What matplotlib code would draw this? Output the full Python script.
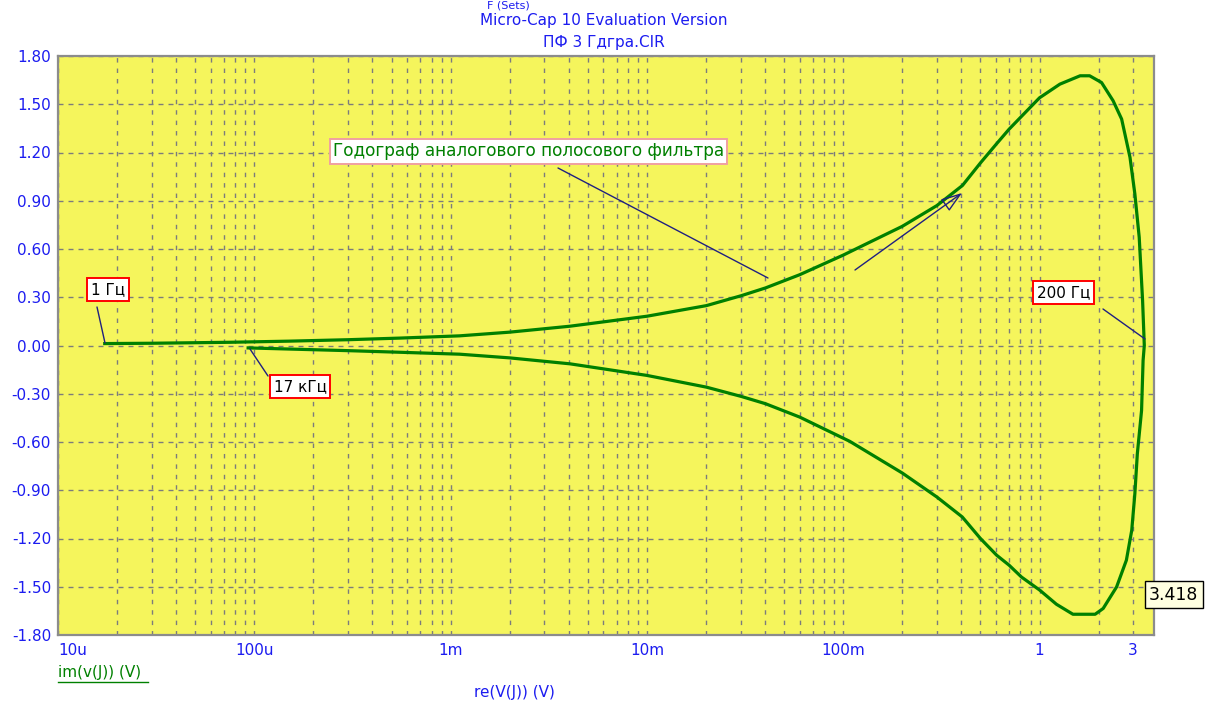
import matplotlib.pyplot as plt
from matplotlib.ticker import LogLocator, NullFormatter

plt.rcParams['font.family'] = ['DejaVu Sans']
plt.rcParams['lines.scale_dashes'] = False

# годограф: верхняя ветвь (1 Гц -> 200 Гц)
re_up = [1.73e-5, 3.0e-5, 7.5e-5, 1.5e-4, 3.0e-4, 5.5e-4, 1.11e-3, 2.0e-3, 4.06e-3,
         0.01, 0.0201, 0.0303, 0.0402, 0.06, 0.1, 0.2, 0.3, 0.405, 0.5, 0.605, 0.7,
         0.81, 1.0, 1.27, 1.61, 1.80, 2.07, 2.37, 2.62, 2.89, 3.06, 3.22, 3.35, 3.418]
im_up = [0.012, 0.014, 0.02, 0.027, 0.036, 0.046, 0.06, 0.083, 0.12,
         0.182, 0.248, 0.31, 0.358, 0.44, 0.562, 0.741, 0.87, 0.995, 1.135, 1.255, 1.345,
         1.425, 1.54, 1.625, 1.677, 1.677, 1.635, 1.522, 1.408, 1.17, 0.942, 0.673, 0.28, 0.0]

# нижняя ветвь (200 Гц -> 17 кГц)
re_dn = [3.418, 3.37, 3.31, 3.15, 3.06, 2.95, 2.77, 2.47, 2.11, 1.92, 1.48, 1.22, 1.0,
         0.81, 0.7, 0.605, 0.5, 0.404, 0.3, 0.2, 0.108, 0.06, 0.0402, 0.0303, 0.0201,
         0.01, 4.06e-3, 2.0e-3, 1.11e-3, 5.5e-4, 3.0e-4, 1.5e-4, 9.3e-5]
im_dn = [0.0, -0.093, -0.404, -0.673, -0.921, -1.149, -1.335, -1.501, -1.635, -1.671,
         -1.671, -1.609, -1.52, -1.44, -1.366, -1.304, -1.20, -1.066, -0.942, -0.793,
         -0.596, -0.445, -0.362, -0.317, -0.259, -0.186, -0.114, -0.077, -0.054, -0.042,
         -0.032, -0.022, -0.015]

x_ticks = [1e-5, 1e-4, 1e-3, 1e-2, 1e-1, 1, 3]
x_labels = ['10u', '100u', '1m', '10m', '100m', '1', '3']
y_ticks = [-1.8, -1.5, -1.2, -0.9, -0.6, -0.3, 0.0, 0.3, 0.6, 0.9, 1.2, 1.5, 1.8]

blue = '#1c1cf0'
navy = '#202080'
green = '#008000'
grid_gray = '#7c7c7c'

W, H = 1210, 707
def fx(px):
    return px / W
def fy(py):
    return 1 - py / H

fig = plt.figure(figsize=(12.1, 7.07), dpi=100)
ax = fig.add_axes([fx(58), fy(635), fx(1154) - fx(58), fy(56) - fy(635)])
ax.set_facecolor('#f5f55c')

ax.plot(re_up + re_dn[1:], im_up + im_dn[1:], color=green, lw=2.3, zorder=3,
        solid_joinstyle='round')

ax.set_xscale('log')
ax.set_xlim(1e-5, 3.83)
ax.set_ylim(-1.8, 1.8)
ax.set_xticks(x_ticks, x_labels)
ax.set_yticks(y_ticks, ['%.2f' % v for v in y_ticks])
ax.xaxis.set_minor_locator(LogLocator(base=10, subs=range(2, 10), numticks=20))
ax.xaxis.set_minor_formatter(NullFormatter())
ax.tick_params(axis='both', which='both', length=0, labelcolor=blue, labelsize=11)
ax.tick_params(axis='x', pad=6)
ax.tick_params(axis='y', pad=5)
ax.get_xticklabels()[0].set_ha('left')

ax.grid(True, which='both', axis='x', color=grid_gray, lw=1, linestyle=(0, (3.2, 4.3)))
ax.grid(True, which='major', axis='y', color=grid_gray, lw=1, linestyle=(0, (3.6, 3.6)))
for s in ax.spines.values():
    s.set_color('#8c8c8c')
    s.set_linewidth(1.6)

# заголовок (верхняя строка в оригинале срезана краем)
fig.text(fx(508), fy(0), 'F (Sets)', color=blue, fontsize=8, ha='center', va='top')
fig.text(fx(604), fy(20), 'Micro-Cap 10 Evaluation Version', color=blue, fontsize=11,
         ha='center', va='center')
fig.text(fx(604), fy(42), 'ПФ 3 Гдгра.CIR', color=blue, fontsize=11, ha='center', va='center')

# подписи осей
fig.text(fx(58), fy(673), 'im(v(J)) (V)', color=green, fontsize=11, ha='left', va='center')
fig.add_artist(plt.Line2D([fx(58), fx(148)], [fy(682), fy(682)], color=green, lw=1))
fig.text(fx(514), fy(693), 're(V(J)) (V)', color=blue, fontsize=11, ha='center', va='center')

# метки
red_box = dict(boxstyle='square,pad=0.25', fc='white', ec='red', lw=1.4)
ax.text(fx(108), fy(289.5), '1 Гц', transform=fig.transFigure, fontsize=11,
        ha='center', va='center', bbox=red_box, zorder=5)
ax.text(fx(300), fy(386.5), '17 кГц', transform=fig.transFigure, fontsize=11,
        ha='center', va='center', bbox=red_box, zorder=5)
ax.text(fx(1063.5), fy(292.5), '200 Гц', transform=fig.transFigure, fontsize=11,
        ha='center', va='center', bbox=red_box, zorder=5)
ax.text(fx(528.5), fy(151.5), 'Годограф аналогового полосового фильтра',
        transform=fig.transFigure, fontsize=12.2, color=green, ha='center', va='center',
        bbox=dict(boxstyle='square,pad=0.18', fc='white', ec='#f0a0a0', lw=1.4), zorder=5)

leaders = [((97, 307), (105, 343)), ((268, 376), (250, 349)),
           ((1103, 309), (1145, 339)), ((558, 168), (768, 278))]
for (a, b) in leaders:
    ax.annotate('', xy=(fx(b[0]), fy(b[1])), xycoords='figure fraction',
                xytext=(fx(a[0]), fy(a[1])), textcoords='figure fraction',
                arrowprops=dict(arrowstyle='-', color=navy, lw=1, shrinkA=0, shrinkB=0),
                zorder=4)

ax.annotate('', xy=(fx(962), fy(193)), xycoords='figure fraction',
            xytext=(fx(855), fy(270)), textcoords='figure fraction',
            arrowprops=dict(arrowstyle='-|>,head_length=1.3,head_width=0.45', ec=navy,
                            fc='none', lw=1, shrinkA=0, shrinkB=0), zorder=4)

fig.text(fx(1149), fy(594.5), '3.418', fontsize=12.5, ha='left', va='center',
         bbox=dict(boxstyle='square,pad=0.25', fc='#ffffe1', ec='black', lw=1))

fig.savefig('out.png', dpi=100)
